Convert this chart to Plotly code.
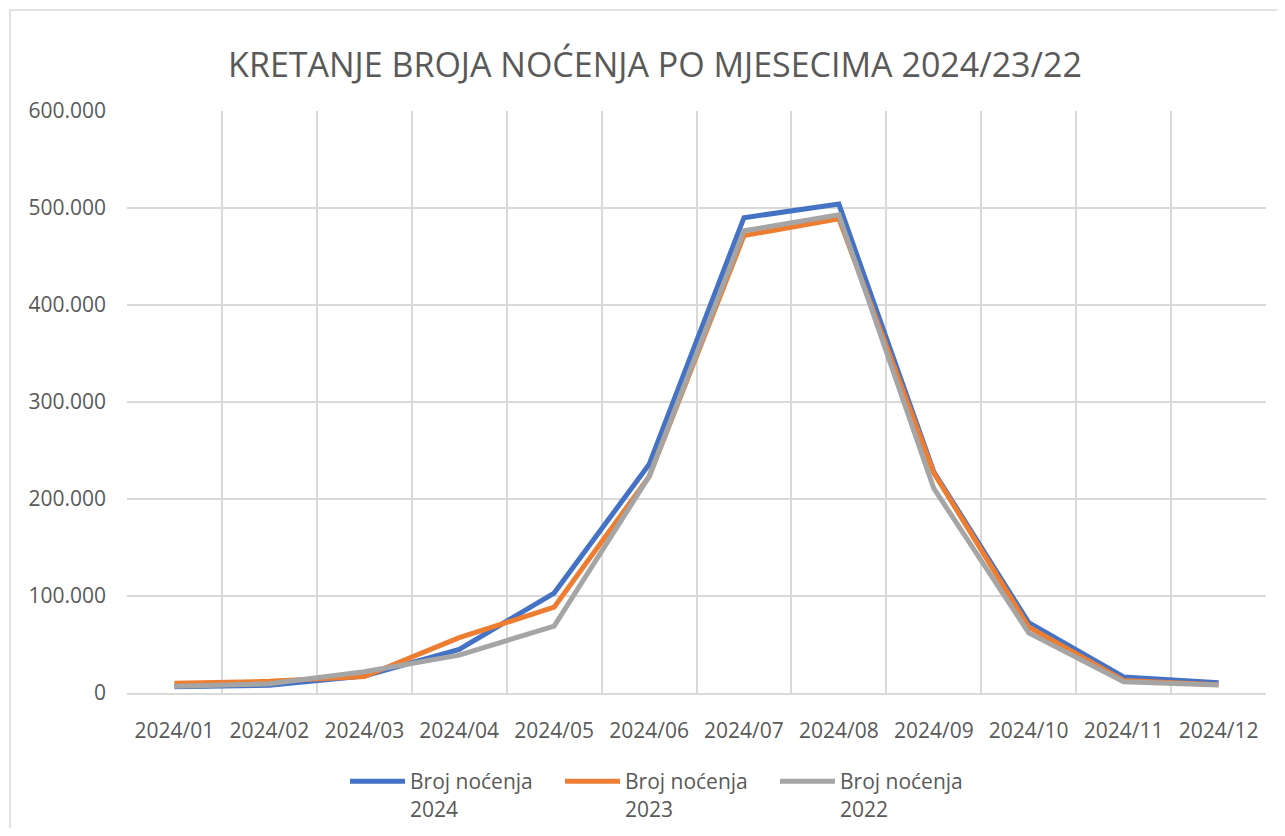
import plotly.graph_objects as go

months = ["2024/01", "2024/02", "2024/03", "2024/04", "2024/05", "2024/06",
          "2024/07", "2024/08", "2024/09", "2024/10", "2024/11", "2024/12"]
n2024 = [6500, 8000, 17500, 45000, 103000, 235500, 490000, 504000, 228000, 72500, 16500, 10600]
n2023 = [10000, 12000, 17000, 57000, 88500, 223000, 471500, 489000, 227000, 68000, 13000, 8500]
n2022 = [7000, 9500, 22000, 39000, 69000, 223000, 476500, 493000, 211000, 62000, 11700, 8200]

series = [("Broj noćenja<br>2024", n2024, "#4472C4"),
          ("Broj noćenja<br>2023", n2023, "#ED7D31"),
          ("Broj noćenja<br>2022", n2022, "#A5A5A5")]

fig = go.Figure()
for name, vals, col in series:
    fig.add_trace(go.Scatter(x=months, y=vals, name=name, mode="lines",
                             line=dict(color=col, width=5)))

# page body has an 8px margin; work in screen coordinates
OFF = 8
W, H = 1285 - 2 * OFF, 836 - 2 * OFF
PL, PR, PT, PB = 127, 1266, 111, 693   # plot area in screen px
L, R, T, B = PL - OFF, (W + OFF) - PR, PT - OFF, (H + OFF) - PB
pw, ph = PR - PL, PB - PT

def px(x):
    return (x - PL) / pw

def py(y):
    return (PB - y) / ph

FONT = "Open Sans, Liberation Sans, sans-serif"

fig.update_layout(
    width=W, height=H,
    margin=dict(l=L, r=R, t=T, b=B, autoexpand=False),
    paper_bgcolor="white", plot_bgcolor="white",
    separators=",.",
    font=dict(family=FONT, color="#595959", size=21),
    title=dict(text="KRETANJE BROJA NOĆENJA PO MJESECIMA 2024/23/22",
               x=(655 - OFF) / W, xanchor="center", y=1 - (65 - OFF) / H, yanchor="middle",
               font=dict(size=34, color="#595959", family=FONT)),
    xaxis=dict(type="category", tickson="boundaries", showgrid=True,
               gridcolor="#D9D9D9", gridwidth=1.5, ticks="",
               showline=True, linecolor="#D9D9D9", linewidth=1.5,
               range=[-0.5, 11.5], ticklabelstandoff=18,
               tickfont=dict(size=21, color="#595959")),
    yaxis=dict(range=[0, 600000], dtick=100000, tickformat=",d",
               showgrid=True, gridcolor="#D9D9D9", gridwidth=1.5,
               zeroline=False, ticks="", ticklabelstandoff=20,
               tickfont=dict(size=21, color="#595959")),
    showlegend=True,
    legend=dict(orientation="h", x=px(345), xanchor="left",
                y=py(761), yanchor="top", valign="top",
                entrywidth=145, entrywidthmode="pixels", itemwidth=55,
                font=dict(size=21, color="#595959"),
                bgcolor="rgba(0,0,0,0)"),
    shapes=[dict(type="rect", xref="paper", yref="paper",
                 x0=px(10), x1=px(1284), y0=py(900), y1=py(10),
                 line=dict(color="#D9D9D9", width=1.5), layer="below")],
)

fig.write_html("out.html")
